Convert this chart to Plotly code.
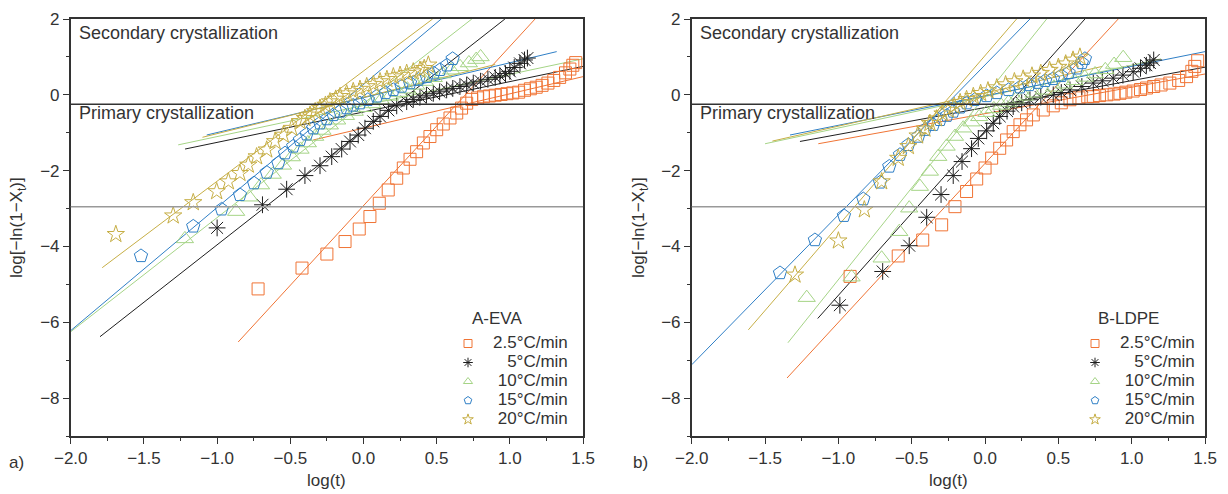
import plotly.graph_objects as go

# ---------------- data: panel a) A-EVA ----------------
a25_x = [-0.72, -0.42, -0.25, -0.126, -0.029, 0.044, 0.108, 0.169, 0.227, 0.272, 0.318, 0.363, 0.409, 0.454, 0.50, 0.545, 0.591, 0.637, 0.67, 0.705, 0.74, 0.78, 0.82, 0.86, 0.90, 0.94, 0.98, 1.02, 1.06, 1.10, 1.14, 1.18, 1.22, 1.26, 1.30, 1.34, 1.38, 1.41, 1.43, 1.45]
a25_y = [-5.12, -4.57, -4.20, -3.87, -3.54, -3.21, -2.86, -2.51, -2.20, -1.93, -1.70, -1.50, -1.27, -1.10, -0.92, -0.77, -0.61, -0.48, -0.35, -0.22, -0.12, -0.08, -0.05, -0.03, -0.01, 0.01, 0.03, 0.05, 0.07, 0.12, 0.16, 0.20, 0.25, 0.31, 0.38, 0.46, 0.58, 0.68, 0.78, 0.85]

a5_x = [-1.0, -0.69, -0.525, -0.40, -0.297, -0.217, -0.149, -0.092, -0.036, 0.01, 0.067, 0.113, 0.17, 0.227, 0.295, 0.34, 0.386, 0.43, 0.477, 0.52, 0.568, 0.61, 0.659, 0.705, 0.75, 0.80, 0.85, 0.90, 0.932, 0.97, 1.0, 1.03, 1.069, 1.10, 1.12]
a5_y = [-3.51, -2.90, -2.49, -2.13, -1.87, -1.63, -1.43, -1.23, -1.06, -0.88, -0.70, -0.57, -0.41, -0.29, -0.18, -0.12, -0.06, -0.01, 0.04, 0.08, 0.13, 0.17, 0.22, 0.26, 0.31, 0.36, 0.41, 0.46, 0.50, 0.56, 0.62, 0.72, 0.83, 0.92, 0.97]

a10_x = [-1.22, -0.87, -0.78, -0.70, -0.62, -0.55, -0.49, -0.43, -0.38, -0.33, -0.28, -0.23, -0.18, -0.12, -0.06, 0.0, 0.06, 0.12, 0.18, 0.24, 0.30, 0.36, 0.42, 0.48, 0.54, 0.60, 0.66, 0.72, 0.77, 0.80]
a10_y = [-3.80, -3.08, -2.70, -2.38, -2.10, -1.86, -1.64, -1.44, -1.27, -1.10, -0.94, -0.80, -0.67, -0.55, -0.44, -0.34, -0.24, -0.14, -0.04, 0.06, 0.15, 0.25, 0.35, 0.45, 0.55, 0.65, 0.74, 0.84, 0.93, 1.00]

a15_x = [-1.52, -1.163, -0.969, -0.844, -0.748, -0.661, -0.582, -0.536, -0.48, -0.434, -0.388, -0.343, -0.297, -0.25, -0.206, -0.16, -0.115, -0.07, -0.024, 0.03, 0.09, 0.15, 0.204, 0.26, 0.318, 0.375, 0.432, 0.48, 0.523, 0.57, 0.609]
a15_y = [-4.25, -3.47, -3.02, -2.64, -2.33, -2.05, -1.80, -1.54, -1.36, -1.19, -1.04, -0.88, -0.75, -0.64, -0.53, -0.44, -0.35, -0.28, -0.22, -0.13, -0.04, 0.05, 0.13, 0.22, 0.31, 0.40, 0.48, 0.57, 0.66, 0.78, 0.95]

a20_x = [-1.692, -1.30, -1.163, -1.003, -0.923, -0.844, -0.787, -0.73, -0.661, -0.604, -0.548, -0.49, -0.434, -0.40, -0.365, -0.33, -0.297, -0.26, -0.229, -0.19, -0.16, -0.115, -0.07, -0.024, 0.022, 0.068, 0.113, 0.16, 0.204, 0.25, 0.295, 0.34, 0.386, 0.415, 0.443]
a20_y = [-3.68, -3.19, -2.84, -2.55, -2.29, -2.07, -1.85, -1.63, -1.45, -1.23, -1.06, -0.88, -0.70, -0.62, -0.53, -0.44, -0.35, -0.27, -0.18, -0.11, -0.04, 0.03, 0.09, 0.15, 0.22, 0.28, 0.35, 0.41, 0.48, 0.52, 0.57, 0.61, 0.65, 0.70, 0.79]

# fitted lines (primary = steep, secondary = shallow), order 2.5,5,10,15,20
a_steep_x = [[-0.856, 1.172], [-1.80, 0.966], [-2.0, 0.74], [-2.0, 0.531], [-1.785, 0.472]]
a_steep_y = [[-6.52, 2.0], [-6.38, 2.0], [-6.25, 2.0], [-6.22, 2.0], [-4.56, 2.0]]
a_shal_x = [[-0.343, 1.5], [-1.219, 1.5], [-1.266, 1.5], [-1.071, 1.32], [-1.10, 0.90]]
a_shal_y = [[-1.19, 0.48], [-1.43, 0.75], [-1.32, 0.95], [-1.06, 1.14], [-1.12, 0.80]]

# ---------------- data: panel b) B-LDPE ----------------
b25_x = [-0.92, -0.592, -0.425, -0.296, -0.205, -0.126, -0.057, 0.0, 0.045, 0.10, 0.147, 0.192, 0.238, 0.283, 0.329, 0.397, 0.465, 0.52, 0.579, 0.64, 0.70, 0.738, 0.78, 0.83, 0.88, 0.92, 0.96, 1.01, 1.06, 1.101, 1.15, 1.20, 1.26, 1.32, 1.374, 1.41, 1.43, 1.45]
b25_y = [-4.79, -4.25, -3.83, -3.43, -2.95, -2.55, -2.22, -1.93, -1.67, -1.41, -1.19, -0.97, -0.79, -0.66, -0.53, -0.40, -0.29, -0.21, -0.13, -0.08, -0.05, -0.04, -0.02, 0.0, 0.02, 0.04, 0.07, 0.10, 0.14, 0.18, 0.22, 0.26, 0.31, 0.38, 0.48, 0.62, 0.75, 0.90]

b5_x = [-0.99, -0.698, -0.517, -0.398, -0.30, -0.217, -0.157, -0.092, -0.046, 0.011, 0.056, 0.10, 0.15, 0.192, 0.25, 0.306, 0.38, 0.465, 0.52, 0.579, 0.66, 0.738, 0.80, 0.874, 0.94, 1.01, 1.06, 1.10, 1.124, 1.15]
b5_y = [-5.55, -4.66, -3.98, -3.23, -2.63, -2.13, -1.76, -1.42, -1.15, -0.95, -0.75, -0.57, -0.43, -0.31, -0.21, -0.13, -0.06, 0.0, 0.06, 0.13, 0.22, 0.31, 0.37, 0.44, 0.52, 0.61, 0.70, 0.78, 0.84, 0.92]

b10_x = [-1.216, -0.91, -0.705, -0.585, -0.517, -0.444, -0.376, -0.319, -0.262, -0.205, -0.149, -0.092, -0.04, 0.01, 0.06, 0.11, 0.16, 0.21, 0.27, 0.33, 0.40, 0.47, 0.54, 0.61, 0.68, 0.75, 0.82, 0.88, 0.942]
b10_y = [-5.35, -4.81, -4.31, -3.61, -2.99, -2.42, -2.02, -1.63, -1.36, -1.10, -0.88, -0.72, -0.58, -0.47, -0.37, -0.28, -0.20, -0.12, -0.04, 0.04, 0.12, 0.20, 0.28, 0.37, 0.46, 0.55, 0.66, 0.80, 0.98]

b15_x = [-1.398, -1.16, -0.962, -0.83, -0.716, -0.653, -0.58, -0.523, -0.455, -0.41, -0.353, -0.307, -0.26, -0.217, -0.17, -0.126, -0.07, 0.011, 0.08, 0.16, 0.238, 0.30, 0.36, 0.41, 0.463, 0.52, 0.57, 0.624, 0.66, 0.681]
b15_y = [-4.70, -3.83, -3.19, -2.75, -2.31, -1.89, -1.58, -1.32, -1.10, -0.92, -0.79, -0.66, -0.55, -0.44, -0.33, -0.22, -0.13, -0.03, 0.05, 0.13, 0.20, 0.26, 0.32, 0.37, 0.42, 0.50, 0.58, 0.70, 0.84, 0.95]

b20_x = [-1.296, -1.0, -0.823, -0.705, -0.592, -0.523, -0.46, -0.41, -0.376, -0.33, -0.29, -0.25, -0.21, -0.17, -0.126, -0.08, -0.03, 0.02, 0.08, 0.14, 0.20, 0.26, 0.32, 0.38, 0.44, 0.50, 0.55, 0.60, 0.647]
b20_y = [-4.75, -3.85, -3.03, -2.29, -1.67, -1.36, -1.08, -0.90, -0.75, -0.63, -0.50, -0.40, -0.30, -0.20, -0.12, -0.04, 0.04, 0.11, 0.19, 0.27, 0.35, 0.42, 0.50, 0.57, 0.65, 0.73, 0.82, 0.92, 1.00]

b_steep_x = [[-1.35, 0.908], [-1.141, 0.681], [-1.344, 0.42], [-2.0, 0.306], [-1.614, 0.215]]
b_steep_y = [[-7.47, 2.0], [-5.90, 2.0], [-6.54, 2.0], [-7.12, 2.0], [-6.20, 2.0]]
b_shal_x = [[-1.137, 1.5], [-1.262, 1.5], [-1.50, 1.2], [-1.33, 1.5], [-1.45, 0.8]]
b_shal_y = [[-1.29, 0.55], [-1.23, 0.73], [-1.29, 0.95], [-1.06, 1.14], [-1.22, 0.75]]

rate_labels = ["2.5°C/min", "5°C/min", "10°C/min", "15°C/min", "20°C/min"]
rate_pad = ["", "\u00a0\u00a0\u00a0", "\u00a0", "\u00a0", "\u00a0"]
boundary_primary = -0.25
boundary_lower = -2.95
x_ticks = [-2.0, -1.5, -1.0, -0.5, 0.0, 0.5, 1.0, 1.5]
y_ticks = [2, 0, -2, -4, -6, -8]

# ---------------- styles ----------------
colors = ["#F07435", "#1E1E1E", "#A5D486", "#2F7FC6", "#C6AE45"]
symbols = ["square-open", "asterisk-open", "triangle-up-open", "pentagon-open", "star-open"]
sizes = [12, 14, 15, 14, 13]
FONT = "Liberation Sans, Arial, sans-serif"
TXT = "#333"

fig = go.Figure()

panels = [
    ("x", "y", [(a25_x, a25_y), (a5_x, a5_y), (a10_x, a10_y), (a15_x, a15_y), (a20_x, a20_y)],
     a_steep_x, a_steep_y, a_shal_x, a_shal_y, "legend"),
    ("x2", "y2", [(b25_x, b25_y), (b5_x, b5_y), (b10_x, b10_y), (b15_x, b15_y), (b20_x, b20_y)],
     b_steep_x, b_steep_y, b_shal_x, b_shal_y, "legend2"),
]

for xa, ya, series, sx, sy, hx, hy, leg in panels:
    for i in range(5):
        for lx, ly in ((sx[i], sy[i]), (hx[i], hy[i])):
            fig.add_trace(go.Scatter(x=lx, y=ly, mode="lines", xaxis=xa, yaxis=ya,
                                     line=dict(color=colors[i], width=1), showlegend=False,
                                     hoverinfo="skip"))
    for i in range(5):
        px, py = series[i]
        fig.add_trace(go.Scatter(x=px, y=py, mode="markers", xaxis=xa, yaxis=ya,
                                 marker=dict(symbol=symbols[i], size=sizes[i],
                                             color=colors[i],
                                             line=dict(color=colors[i], width=1)),
                                 showlegend=False))
    # legend-only entries (small symbols)
    for i in range(5):
        fig.add_trace(go.Scatter(x=[None], y=[None], mode="markers", xaxis=xa, yaxis=ya,
                                 name='<span style="font-size:17px">' + rate_pad[i] + rate_labels[i] + '</span>',
                                 marker=dict(symbol=symbols[i], size=8, color=colors[i],
                                             line=dict(color=colors[i], width=1)),
                                 legend=leg, showlegend=True))

ydom = [0.1174, 0.9615]
xdomA = [0.0576, 0.4748]
xdomB = [0.5633, 0.9813]

def xaxis(dom, anchor):
    return dict(domain=dom, anchor=anchor, range=[-2.0, 1.5], tickvals=x_ticks,
                tickformat=".1f", ticks="outside", ticklen=6, tickwidth=1.2, tickcolor=TXT,
                minor=dict(dtick=0.25, tick0=0, ticks="outside", ticklen=3, tickcolor=TXT),
                showline=True, mirror=True, linecolor=TXT, linewidth=1.5,
                showgrid=False, zeroline=False, automargin=False,
                tickfont=dict(size=17, color=TXT, family=FONT))

def yaxis(anchor):
    return dict(domain=ydom, anchor=anchor, range=[-9, 2], tickvals=y_ticks,
                ticks="outside", ticklen=6, tickwidth=1.2, tickcolor=TXT,
                minor=dict(dtick=1, tick0=0, ticks="outside", ticklen=3, tickcolor=TXT),
                showline=True, mirror=True, linecolor=TXT, linewidth=1.5,
                showgrid=False, zeroline=False, automargin=False,
                tickfont=dict(size=17, color=TXT, family=FONT))

shapes = []
for xr, yr in (("x domain", "y"), ("x2 domain", "y2")):
    shapes.append(dict(type="line", xref=xr, yref=yr, x0=0, x1=1, y0=boundary_primary,
                       y1=boundary_primary, line=dict(color=TXT, width=1.5)))
    shapes.append(dict(type="line", xref=xr, yref=yr, x0=0, x1=1, y0=boundary_lower,
                       y1=boundary_lower, line=dict(color="#999", width=1.5)))

ann = []
for xr, yr, lab, ylab_x, px0 in (("x domain", "y domain", "a)", 18, 16),
                                  ("x2 domain", "y2 domain", "b)", 640, 640)):
    ann.append(dict(xref=xr, yref=yr, x=0.013, y=0.966, text="Secondary crystallization",
                    showarrow=False, xanchor="left", yanchor="middle",
                    font=dict(size=18, color=TXT, family=FONT)))
    ann.append(dict(xref=xr, yref=yr, x=0.013, y=0.775, text="Primary crystallization",
                    showarrow=False, xanchor="left", yanchor="middle",
                    font=dict(size=18, color=TXT, family=FONT)))
    ann.append(dict(xref=xr, yref="paper", x=0.5, y=(494 - 480) / 494, text="log(t)",
                    showarrow=False, xanchor="center", yanchor="middle",
                    font=dict(size=17, color=TXT, family=FONT)))
    ann.append(dict(xref="paper", yref="paper", x=ylab_x / 1228, y=(494 - 228) / 494,
                    text="log[\u2212ln(1\u2212X<sub>t</sub>)]", textangle=-90,
                    showarrow=False, xanchor="center", yanchor="middle",
                    font=dict(size=17, color=TXT, family=FONT)))
    ann.append(dict(xref="paper", yref="paper", x=px0 / 1228, y=(494 - 462) / 494, text=lab,
                    showarrow=False, xanchor="center", yanchor="middle",
                    font=dict(size=17, color=TXT, family=FONT)))

ann.append(dict(xref="paper", yref="paper", x=497 / 1228, y=(494 - 318) / 494, text="A-EVA",
                showarrow=False, xanchor="center", yanchor="middle",
                font=dict(size=17, color=TXT, family=FONT)))
ann.append(dict(xref="paper", yref="paper", x=1128 / 1228, y=(494 - 318) / 494, text="B-LDPE",
                showarrow=False, xanchor="center", yanchor="middle",
                font=dict(size=17, color=TXT, family=FONT)))

legend_common = dict(yanchor="top", xanchor="left", bgcolor="rgba(0,0,0,0)",
                     font=dict(size=12, color=TXT, family=FONT), itemwidth=40,
                     traceorder="normal")

fig.update_layout(
    width=1228, height=494, margin=dict(l=0, r=0, t=0, b=0, autoexpand=False),
    paper_bgcolor="white", plot_bgcolor="white",
    xaxis=xaxis(xdomA, "y"), yaxis=yaxis("x"),
    xaxis2=xaxis(xdomB, "y2"), yaxis2=yaxis("x2"),
    shapes=shapes, annotations=ann,
    legend=dict(x=443 / 1228, y=(494 - 329) / 494, **legend_common),
    legend2=dict(x=1070 / 1228, y=(494 - 329) / 494, **legend_common),
    font=dict(family=FONT, color=TXT),
)

fig.write_html("out.html")
